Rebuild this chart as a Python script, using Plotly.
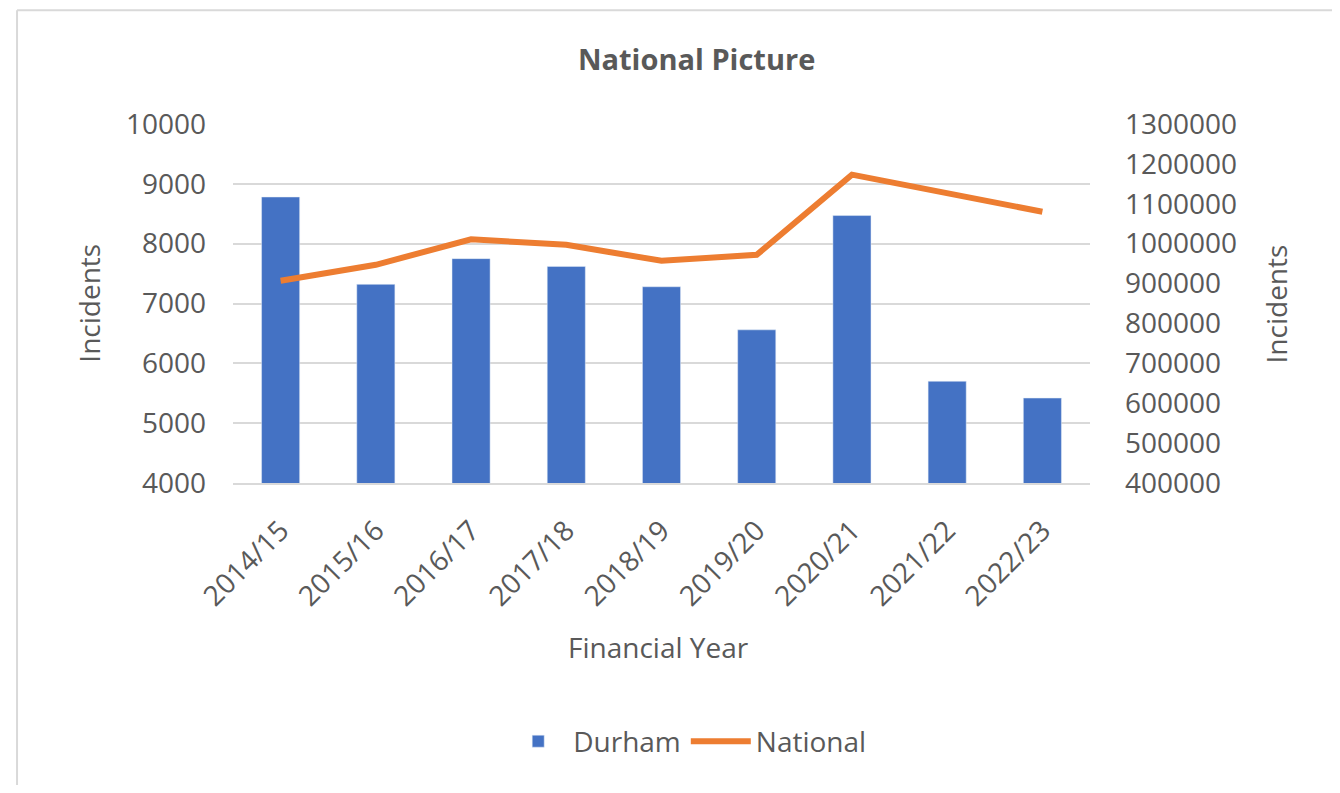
import plotly.graph_objects as go

years = ["2014/15", "2015/16", "2016/17", "2017/18", "2018/19", "2019/20", "2020/21", "2021/22", "2022/23"]
durham = [8780, 7320, 7750, 7620, 7280, 6560, 8470, 5700, 5420]
national = [907000, 947000, 1011000, 997000, 957000, 972000, 1173000, 1126000, 1080000]

left_ticks = [4000, 5000, 6000, 7000, 8000, 9000, 10000]
left_labels = ["4000", "5000", "6000", "7000", "8000", "9000", "10000"]
right_ticks = [400000, 500000, 600000, 700000, 800000, 900000, 1000000, 1100000, 1200000, 1300000]
right_labels = ["400000", "500000", "600000", "700000", "800000", "900000",
                "1000000", "1100000", "1200000", "1300000"]

FONT = "Open Sans"
GREY = "#595959"
GRID = "#d9d9d9"
FS = 28

fig = go.Figure()
fig.add_trace(go.Bar(x=years, y=durham, name="Durham", marker_color="#4472C4", yaxis="y"))
fig.add_trace(go.Scatter(x=years, y=national, name="National", mode="lines",
                         line=dict(color="#ED7D31", width=6), yaxis="y2"))

fig.update_layout(
    width=1324, height=777,
    margin=dict(l=225, r=242, t=116, b=302),
    paper_bgcolor="white", plot_bgcolor="white",
    font=dict(family=FONT, color=GREY, size=FS),
    bargap=0.6,
    title=dict(text="<b>National Picture</b>", x=0.541, xref="paper", xanchor="center",
               y=1 - 52/777, yref="container", yanchor="middle",
               font=dict(family=FONT, size=29, color=GREY)),
    xaxis=dict(tickangle=-45, showgrid=False, showline=True, linecolor=GRID, linewidth=2,
               ticks="", tickfont=dict(size=FS, color=GREY), ticklabelstandoff=18),
    yaxis=dict(range=[4000, 10000], tickvals=left_ticks, ticktext=left_labels,
               showgrid=True, gridcolor=GRID, gridwidth=2, zeroline=False, ticks="",
               tickfont=dict(size=FS, color=GREY), ticklabelstandoff=26),
    yaxis2=dict(range=[400000, 1300000], tickvals=right_ticks, ticktext=right_labels,
                overlaying="y", side="right", showgrid=False, zeroline=False, ticks="",
                tickfont=dict(size=FS, color=GREY), ticklabelstandoff=34),
    legend=dict(orientation="h", x=0.53, xanchor="center", y=-0.72, yanchor="middle",
                font=dict(size=FS, color=GREY), itemwidth=60),
    annotations=[
        dict(text="Incidents", x=-0.169, y=0.5, xref="paper", yref="paper", textangle=-90,
             showarrow=False, font=dict(size=FS, color=GREY), xanchor="center", yanchor="middle"),
        dict(text="Incidents", x=1.217, y=0.5, xref="paper", yref="paper", textangle=-90,
             showarrow=False, font=dict(size=FS, color=GREY), xanchor="center", yanchor="middle"),
        dict(text="Financial Year", x=0.496, y=-0.457, xref="paper", yref="paper",
             showarrow=False, font=dict(size=FS, color=GREY), xanchor="center", yanchor="middle"),
    ],
    shapes=[
        dict(type="line", xref="paper", yref="paper", x0=-0.252, x1=-0.252, y0=-0.87, y1=1.317,
             line=dict(color=GRID, width=2)),
        dict(type="line", xref="paper", yref="paper", x0=-0.252, x1=1.30, y0=1.317, y1=1.317,
             line=dict(color=GRID, width=2)),
    ],
)

fig.write_html("out.html")
